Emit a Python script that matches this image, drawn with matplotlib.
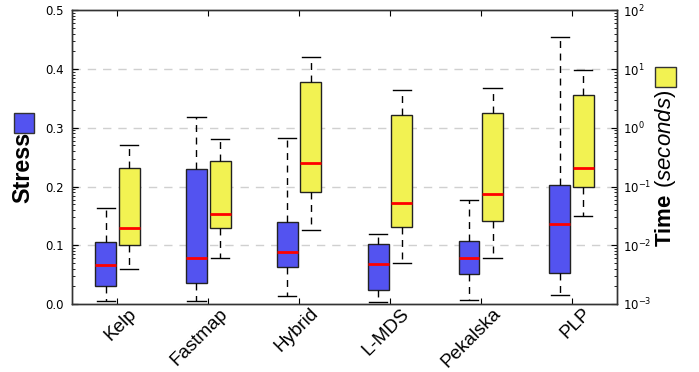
import matplotlib
matplotlib.use("Agg")
import matplotlib.pyplot as plt
from matplotlib.patches import Rectangle
from matplotlib.ticker import LogLocator
from matplotlib import font_manager as fm
from matplotlib.transforms import ScaledTranslation, blended_transform_factory

methods = ["Kelp", "Fastmap", "Hybrid", "L-MDS", "Pekalska", "PLP"]

stress_low = [0.0046, 0.0046, 0.0131, 0.0034, 0.0063, 0.016]
stress_q1 = [0.031, 0.0365, 0.0632, 0.0245, 0.0507, 0.0524]
stress_med = [0.0667, 0.0786, 0.0883, 0.0684, 0.0775, 0.1356]
stress_q3 = [0.105, 0.230, 0.139, 0.102, 0.107, 0.2034]
stress_high = [0.1635, 0.3185, 0.283, 0.1185, 0.1778, 0.455]

time_low = [0.00396, 0.00596, 0.0180, 0.00495, 0.00596, 0.0319]
time_q1 = [0.00993, 0.0199, 0.0811, 0.0202, 0.0259, 0.0975]
time_med = [0.0194, 0.0337, 0.254, 0.0526, 0.0740, 0.203]
time_q3 = [0.208, 0.275, 5.91, 1.66, 1.77, 3.69]
time_high = [0.515, 0.644, 15.8, 4.43, 4.68, 9.49]

stress_ticks = [0.0, 0.1, 0.2, 0.3, 0.4, 0.5]

BLUE = "#5353f0"
YELLOW = "#f2f252"

names = {f.name for f in fm.fontManager.ttflist}
if "Liberation Sans Narrow" in names:
    NARROW, scale = "Liberation Sans Narrow", 1.0
else:
    NARROW, scale = "Liberation Sans", 0.8

plt.rcParams["mathtext.fontset"] = "custom"
plt.rcParams["mathtext.bf"] = f"{NARROW}:bold"
plt.rcParams["mathtext.it"] = f"{NARROW}:italic"
plt.rcParams["mathtext.rm"] = NARROW


def stats(low, q1, med, q3, high):
    return [dict(whislo=a, q1=b, med=c, q3=d, whishi=e, fliers=[])
            for a, b, c, d, e in zip(low, q1, med, q3, high)]


fig = plt.figure(figsize=(6.99, 3.72), dpi=100)
ax = fig.add_axes([0.103, 0.1828, 0.7797, 0.7894])
ax2 = ax.twinx()

pos = list(range(1, len(methods) + 1))
off = 0.13
w = 0.23

common = dict(
    widths=w, capwidths=0.2, patch_artist=True, showfliers=False, manage_ticks=False,
    medianprops=dict(color="red", linewidth=2),
    whiskerprops=dict(color="black", linestyle=(0, (5, 4)), linewidth=1),
    capprops=dict(color="black", linewidth=1),
)

ax.bxp(stats(stress_low, stress_q1, stress_med, stress_q3, stress_high),
       positions=[p - off for p in pos],
       boxprops=dict(facecolor=BLUE, edgecolor="#222222", linewidth=1), **common)
ax2.bxp(stats(time_low, time_q1, time_med, time_q3, time_high),
        positions=[p + off for p in pos],
        boxprops=dict(facecolor=YELLOW, edgecolor="#222222", linewidth=1), **common)

ax.set_xlim(0.5, 6.5)
ax.set_ylim(0, 0.5)
ax2.set_yscale("log")
ax2.set_ylim(1e-3, 1e2)

ax.set_yticks(stress_ticks)
ax.set_yticklabels([f"{t:.1f}" for t in stress_ticks])
ax.set_xticks(pos)
ax.tick_params(axis="x", labelbottom=False)

# category labels, rotated, anchored at their tick
label_tr = blended_transform_factory(ax.transData, ax.transAxes) + \
    ScaledTranslation(0.11, -0.01, fig.dpi_scale_trans)
for p, name in zip(pos, methods):
    ax.text(p, 0, name, transform=label_tr, rotation=45, ha="right", va="top",
            rotation_mode="anchor", fontsize=17 * scale, family=NARROW, clip_on=False)

ax.set_axisbelow(True)
for t in stress_ticks[1:-1]:
    ax.axhline(t, color="#d0d0d0", linestyle=(0, (6, 5)), linewidth=1, zorder=0)

ax.tick_params(axis="y", which="major", direction="in", length=4, labelsize=8.5,
               left=True, right=False, pad=6)
ax.tick_params(axis="x", which="major", direction="in", length=4, top=True)
ax2.yaxis.set_minor_locator(LogLocator(base=10, subs=range(2, 10)))
ax2.tick_params(axis="y", which="major", direction="in", length=4, left=True, right=True,
                labelsize=8.5, pad=4)
ax2.tick_params(axis="y", which="minor", direction="in", length=2, left=True, right=True)

for s in list(ax.spines.values()) + list(ax2.spines.values()):
    s.set_color("#333333")
    s.set_linewidth(1)

# side legend squares + labels
fig.patches.append(Rectangle((0.020, 0.6425), 0.0286, 0.0538, transform=fig.transFigure,
                             facecolor=BLUE, edgecolor="#333333", linewidth=1))
fig.patches.append(Rectangle((0.937, 0.766), 0.030, 0.0538, transform=fig.transFigure,
                             facecolor=YELLOW, edgecolor="#333333", linewidth=1))

fig.text(0.033, 0.55, "Stress", rotation=90, ha="center", va="center",
         fontsize=21 * scale, fontweight="bold", family=NARROW)
fig.text(0.952, 0.548, r"$\mathbf{Time}$ $(\mathit{seconds})$", rotation=90, ha="center",
         va="center", fontsize=20 * scale)

fig.savefig("out.png", dpi=100)
